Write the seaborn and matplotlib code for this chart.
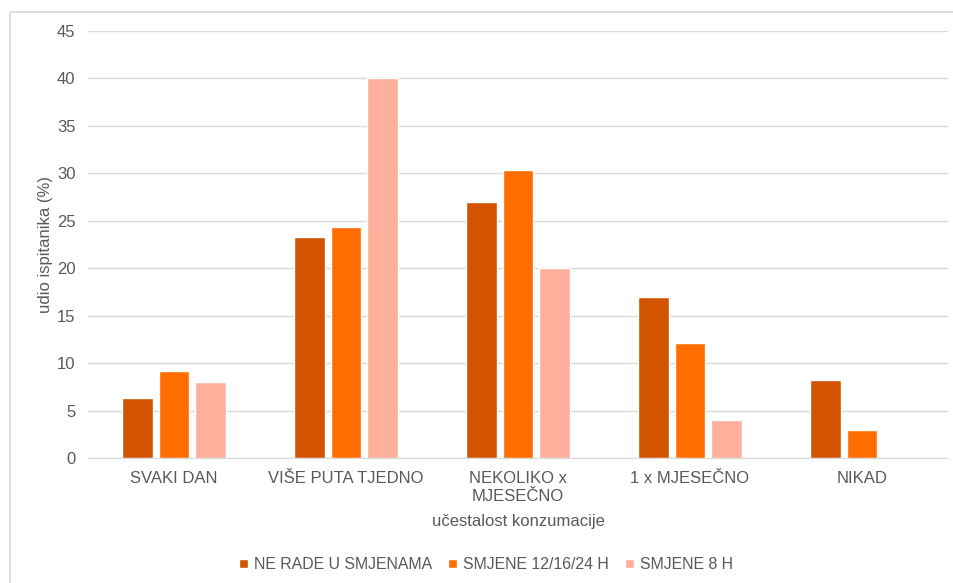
import seaborn as sns
import matplotlib.pyplot as plt
import pandas as pd
from matplotlib.patches import Rectangle

# Data
categories = ["SVAKI DAN", "VIŠE PUTA TJEDNO", "NEKOLIKO x\nMJESEČNO", "1 x MJESEČNO", "NIKAD"]
groups = ["NE RADE U SMJENAMA", "SMJENE 12/16/24 H", "SMJENE 8 H"]
ne_rade = [6.3, 23.3, 27.0, 17.0, 8.2]
smjene_12 = [9.2, 24.3, 30.3, 12.1, 3.0]
smjene_8 = [8.0, 40.0, 20.0, 4.0, 0.0]
colors = ["#D35400", "#FF6D00", "#FFB09C"]

df = pd.DataFrame({
    "kategorija": categories * 3,
    "grupa": [g for g in groups for _ in categories],
    "udio": ne_rade + smjene_12 + smjene_8,
})

sns.set_style("white")
plt.rcParams["font.family"] = ["Liberation Sans", "DejaVu Sans"]
grey = "#595959"
fs = 12

fig = plt.figure(figsize=(9.54, 5.83), dpi=100)
ax = fig.add_axes([0.0922, 0.2144, 0.9015, 0.7324])

sns.barplot(data=df, x="kategorija", y="udio", hue="grupa", order=categories,
            hue_order=groups, palette=colors, width=0.634, gap=0.15,
            ax=ax, legend=True, saturation=1)

ax.set_ylim(0, 45)
ax.set_xlim(-0.5, 4.5)
ax.set_yticks(range(0, 46, 5))
ax.yaxis.grid(True, color="#D9D9D9", linewidth=1)
ax.set_axisbelow(True)
for s in ["top", "right", "left"]:
    ax.spines[s].set_visible(False)
ax.spines["bottom"].set_color("#D9D9D9")
ax.tick_params(axis="both", length=0, labelsize=fs, labelcolor=grey)
ax.tick_params(axis="x", pad=9)
ax.tick_params(axis="y", pad=9)
for lbl in ax.get_xticklabels():
    lbl.set_linespacing(1.3)

ax.set_xlabel("učestalost konzumacije", fontsize=fs, color=grey)
ax.xaxis.set_label_coords(0.5, -0.132)
ax.set_ylabel("udio ispitanika (%)", fontsize=fs, color=grey)
ax.yaxis.set_label_coords(-0.041, 0.5)

ax.legend(loc="center", bbox_to_anchor=(0.463, -0.25), ncol=3, frameon=False,
          fontsize=11.4, labelcolor=grey, handlelength=0.55, handleheight=0.55,
          handletextpad=0.4, columnspacing=1.0)

# light frame around the chart area
fig.patches.append(Rectangle((10 / 954, -0.1), 1.2, 1 - 12 / 583 + 0.1,
                             transform=fig.transFigure, fill=False,
                             edgecolor="#D9D9D9", linewidth=1.2))

fig.savefig("out.png", dpi=100)
